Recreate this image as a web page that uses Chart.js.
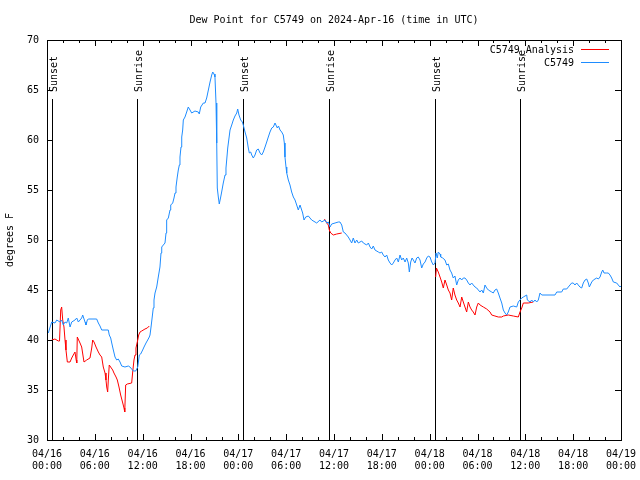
<!DOCTYPE html>
<html>
<head>
<meta charset="utf-8">
<script src="https://cdn.jsdelivr.net/npm/chart.js@4"></script>
<style>
body { margin: 0; background: #fff; }
canvas { display: block; }
</style>
</head>
<body>
<canvas id="chart" width="640" height="480"></canvas>
<script>
// hours since 04/16 00:00 UTC
const blueHours = [
  0.16, 0.59, 1.0, 1.22, 1.63, 1.84, 2.04, 2.26, 2.47, 2.67,
  2.89, 3.1, 3.51, 3.73, 3.93, 4.35, 4.48, 4.77, 4.89, 5.06,
  5.18, 6.23, 6.44, 6.65, 6.86, 7.69, 7.81, 7.99, 8.12, 8.32,
  8.53, 8.74, 8.94, 9.16, 9.37, 9.78, 10.2, 10.41, 10.62, 10.83,
  11.13, 11.38, 11.58, 11.75, 12.0, 12.17, 12.42, 12.63, 12.83, 12.92,
  13.05, 13.2, 13.33, 13.42, 13.55, 13.76, 13.96, 14.17, 14.3, 14.39,
  14.59, 14.8, 14.93, 15.01, 15.22, 15.43, 15.52, 15.77, 15.93, 16.06,
  16.18, 16.34, 16.47, 16.6, 16.68, 16.81, 16.9, 17.02, 17.1, 17.31,
  17.52, 17.72, 17.94, 18.15, 18.56, 18.98, 19.1, 19.28, 19.61, 19.82,
  20.03, 20.16, 20.32, 20.45, 20.66, 20.79, 20.95, 21.07, 21.2, 21.29,
  21.36, 21.49, 21.61, 21.79, 21.91, 22.11, 22.33, 22.45, 22.54, 22.67,
  22.83, 22.96, 23.17, 23.37, 23.58, 23.8, 23.92, 24.08, 24.3, 24.5,
  24.62, 24.84, 25.05, 25.25, 25.38, 25.55, 25.68, 25.88, 26.09, 26.3,
  26.5, 26.72, 26.93, 27.13, 27.35, 27.56, 27.76, 27.97, 28.19, 28.39,
  28.6, 28.89, 29.04, 29.23, 29.44, 29.64, 29.77, 29.85, 29.98, 30.07,
  30.27, 30.48, 30.69, 30.9, 31.11, 31.32, 31.52, 31.74, 32.07, 32.24,
  32.45, 32.78, 32.99, 33.2, 33.62, 33.83, 34.24, 34.46, 34.87, 35.09,
  35.29, 35.5, 35.71, 36.13, 36.54, 36.75, 36.97, 37.17, 37.38, 37.79,
  38.01, 38.22, 38.42, 38.63, 38.85, 39.05, 39.26, 39.48, 39.68, 40.1,
  40.31, 40.52, 40.73, 40.93, 41.14, 41.56, 41.77, 41.98, 42.18, 42.4,
  42.61, 42.81, 43.03, 43.24, 43.44, 43.65, 43.87, 44.07, 44.28, 44.49,
  44.69, 44.91, 45.12, 45.32, 45.45, 45.62, 45.79, 45.95, 46.16, 46.37,
  46.57, 46.79, 47.0, 47.2, 47.42, 47.63, 47.83, 48.04, 48.26, 48.46,
  48.67, 48.8, 48.96, 49.08, 49.3, 49.38, 49.64, 49.92, 50.14, 50.34,
  50.55, 50.76, 50.96, 51.17, 51.39, 51.59, 51.81, 52.02, 52.22, 52.43,
  52.64, 52.85, 53.06, 53.27, 53.47, 53.69, 53.9, 54.1, 54.32, 54.53,
  54.73, 54.94, 55.15, 55.36, 55.57, 55.78, 55.98, 56.19, 56.4, 56.61,
  56.82, 57.04, 57.24, 57.45, 57.66, 57.86, 58.08, 58.49, 58.92, 59.12,
  59.33, 59.55, 59.75, 59.96, 60.17, 60.25, 60.59, 60.8, 61.0, 61.21,
  61.43, 61.63, 61.84, 62.06, 63.72, 63.94, 64.56, 64.76, 65.19, 65.39,
  65.6, 65.81, 66.01, 66.23, 66.44, 66.64, 66.85, 67.07, 67.27, 67.49,
  67.7, 67.9, 68.03, 68.33, 68.53, 68.74, 68.96, 69.16, 69.37, 69.58,
  69.71, 69.87, 70.21, 70.41, 70.62, 70.83, 71.04, 71.46, 71.66, 71.88,
  72.0
];
const blueDew = [
  40.7, 41.8, 41.7, 42.0, 41.8, 42.0, 41.5, 41.8, 41.7, 42.2,
  41.3, 41.8, 42.0, 42.2, 41.8, 42.2, 42.5, 41.8, 41.5, 42.0,
  42.1, 42.1, 41.7, 41.4, 41.0, 41.0, 40.5, 40.2, 39.7, 39.0,
  38.3, 38.0, 38.1, 37.8, 37.4, 37.3, 37.4, 37.3, 37.1, 36.9,
  36.9, 37.3, 38.5, 38.6, 39.0, 39.3, 39.7, 40.0, 40.3, 40.5,
  41.3, 42.3, 43.2, 44.0, 44.7, 45.3, 46.3, 47.3, 48.7, 49.3,
  49.5, 49.7, 50.7, 52.0, 52.2, 53.0, 53.5, 53.7, 54.2, 54.7,
  55.3, 56.3, 57.0, 57.5, 58.3, 59.3, 60.3, 61.0, 62.0, 62.3,
  62.8, 63.3, 63.0, 62.7, 62.9, 62.8, 62.6, 63.3, 63.7, 63.7,
  64.2, 64.7, 65.3, 65.8, 66.5, 66.8, 66.6, 66.3, 63.7, 59.7,
  55.2, 54.3, 53.6, 54.3, 54.8, 55.7, 56.5, 57.2, 58.0, 59.2,
  60.2, 61.0, 61.5, 62.0, 62.4, 62.7, 63.1, 62.5, 62.0, 61.8,
  61.5, 60.8, 60.2, 59.2, 58.7, 58.8, 58.5, 58.2, 58.5, 59.0,
  59.1, 58.7, 58.5, 58.8, 59.3, 59.8, 60.3, 60.8, 61.2, 61.3,
  61.7, 61.2, 61.4, 61.0, 60.8, 60.5, 59.7, 58.3, 57.3, 56.7,
  56.0, 55.5, 54.8, 54.3, 54.0, 53.5, 53.0, 53.5, 52.7, 52.0,
  52.3, 52.4, 52.2, 52.0, 51.8, 51.7, 52.0, 51.8, 52.0, 51.7,
  51.8, 51.3, 51.6, 51.7, 51.8, 51.8, 51.5, 50.8, 50.7, 50.3,
  50.0, 49.7, 50.2, 49.7, 50.0, 49.7, 49.8, 49.9, 49.7, 49.5,
  49.7, 49.3, 49.1, 49.4, 49.0, 48.8, 48.7, 48.8, 48.5, 48.3,
  48.5, 48.0, 47.7, 47.5, 47.7, 48.0, 48.2, 47.8, 48.5, 48.0,
  48.2, 47.8, 48.2, 47.7, 46.8, 47.8, 48.2, 48.0, 47.7, 48.2,
  48.3, 48.0, 47.2, 47.6, 47.8, 48.2, 48.4, 48.3, 47.8, 47.5,
  47.7, 48.7, 48.2, 48.8, 48.6, 48.3, 48.2, 48.0, 47.5, 47.6,
  47.0, 46.7, 46.2, 46.4, 45.5, 46.0, 46.2, 46.0, 46.2, 46.2,
  46.0, 45.7, 45.5, 45.7, 45.5, 45.3, 45.2, 45.0, 44.8, 45.0,
  44.7, 45.5, 45.2, 45.0, 44.9, 44.8, 44.7, 45.0, 45.1, 44.7,
  44.2, 43.7, 43.0, 42.7, 42.5, 42.8, 43.3, 43.4, 43.3, 43.8,
  44.0, 44.2, 44.3, 44.4, 44.5, 44.0, 43.8, 44.0, 43.8, 44.0,
  43.8, 44.0, 44.7, 44.5, 44.5, 44.8, 44.8, 45.1, 45.1, 45.3,
  45.5, 45.7, 45.7, 45.5, 45.7, 45.5, 45.3, 45.2, 45.7, 46.0,
  46.1, 45.7, 45.3, 45.8, 46.0, 46.1, 46.2, 46.1, 46.3, 46.8,
  47.0, 46.7, 46.7, 46.7, 46.5, 46.2, 45.8, 45.7, 45.5, 45.3,
  45.4
];

// analysis series, null = gap
const redHours = [
  0.59, 1.0, 1.42, 1.57, 1.72, 1.84, 1.97, 2.13, 2.26, 2.38,
  2.55, 2.89, 3.1, 3.3, 3.51, 3.66, 3.73, 3.8, 4.14, 4.35,
  4.64, 4.98, 5.39, 5.61, 5.73, 5.9, 6.15, 6.44, 6.65, 6.86,
  7.06, 7.28, 7.4, 7.49, 7.61, 7.69, 7.81, 8.24, 8.4, 8.66,
  8.82, 9.03, 9.24, 9.5, 9.66, 9.75, 9.87, 10.07, 10.62, 10.75,
  10.91, 11.04, 11.16, 11.38, 11.5, 11.67, 11.88, 12.29, 12.58, 12.83,
  20,
  34.8, 35.09, 35.29, 35.41, 35.59, 35.91, 36.34, 36.97,
  42,
  48.75, 48.85, 49.08, 49.3, 49.51, 49.71, 49.92, 50.14, 50.34, 50.55,
  50.76, 50.96, 51.17, 51.39, 51.59, 51.81, 52.02, 52.22, 52.43, 52.64,
  52.85, 53.06, 53.27, 53.47, 53.69, 53.9, 54.1, 54.32, 54.73, 55.15,
  55.57, 55.78, 56.19, 56.61, 57.04, 57.24, 57.86, 58.49, 59.12, 59.33,
  59.55, 59.75, 60.37, 61.0
];
const redDew = [
  40.0, 40.1, 39.9, 39.9, 43.0, 43.3, 42.0, 41.3, 40.0, 39.0,
  37.8, 37.8, 38.2, 38.5, 38.8, 38.0, 37.7, 40.3, 39.7, 39.3,
  37.8, 38.0, 38.2, 39.2, 40.0, 39.8, 39.3, 38.8, 38.5, 38.3,
  37.3, 36.7, 36.0, 35.3, 34.8, 36.0, 37.5, 37.0, 36.7, 36.3,
  36.0, 35.3, 34.5, 33.7, 33.2, 32.8, 35.5, 35.6, 35.7, 36.8,
  38.0, 38.5, 39.2, 40.0, 40.5, 40.8, 40.9, 41.1, 41.2, 41.4,
  null,
  52.1, 51.7, 51.5, 51.0, 50.7, 50.5, 50.6, 50.7,
  null,
  46.3, 47.2, 46.8, 46.3, 45.8, 45.2, 46.0, 45.5, 45.0, 44.7,
  44.0, 45.2, 44.5, 44.0, 43.7, 43.3, 44.3, 43.8, 43.3, 42.8,
  43.8, 43.3, 43.0, 42.8, 42.5, 43.3, 43.7, 43.5, 43.3, 43.1,
  42.8, 42.5, 42.4, 42.3, 42.3, 42.4, 42.5, 42.4, 42.3, 42.8,
  43.2, 43.7, 43.7, 43.8
];

const sunHours = [0.66, 11.33, 24.62, 35.41, 48.71, 59.37];
const sunNames = ['Sunset', 'Sunrise', 'Sunset', 'Sunrise', 'Sunset', 'Sunrise'];
const sunLineTop = 64.1;

const tickDates = ['04/16', '04/16', '04/16', '04/16', '04/17', '04/17', '04/17', '04/17', '04/18', '04/18', '04/18', '04/18', '04/19'];
const tickTimes = ['00:00', '06:00', '12:00', '18:00', '00:00', '06:00', '12:00', '18:00', '00:00', '06:00', '12:00', '18:00', '00:00'];

const FONT = '10px "DejaVu Sans Mono"';

function toPoints(xs, ys) {
    return xs.map((h, i) => ({ x: h, y: ys[i] }));
}

// gnuplot style frame, inward ticks, sun markers, title and key
const gnuplotLook = {
    id: 'gnuplotLook',
    beforeDatasetsDraw(chart) {
        const { ctx, scales: { x, y } } = chart;
        ctx.save();
        ctx.strokeStyle = '#000';
        ctx.fillStyle = '#000';
        ctx.lineWidth = 1;
        ctx.font = FONT;
        const top = Math.round(y.getPixelForValue(sunLineTop));
        sunHours.forEach((h, i) => {
            const px = Math.round(x.getPixelForValue(h)) + 0.5;
            ctx.beginPath();
            ctx.moveTo(px, top);
            ctx.lineTo(px, y.bottom);
            ctx.stroke();
            ctx.save();
            ctx.translate(px + 4, top - 7);
            ctx.rotate(-Math.PI / 2);
            ctx.textAlign = 'left';
            ctx.textBaseline = 'alphabetic';
            ctx.fillText(sunNames[i], 0, 0);
            ctx.restore();
        });
        ctx.restore();
    },
    afterDatasetsDraw(chart) {
        const { ctx, chartArea: a, scales: { x, y } } = chart;
        ctx.save();
        ctx.strokeStyle = '#000';
        ctx.lineWidth = 1;
        ctx.beginPath();
        for (let h = 0; h <= 72; h += 2) {
            const px = Math.round(x.getPixelForValue(h)) + 0.5;
            const len = h % 6 === 0 ? 6 : 3;
            ctx.moveTo(px, a.bottom); ctx.lineTo(px, a.bottom - len);
            ctx.moveTo(px, a.top); ctx.lineTo(px, a.top + len);
        }
        for (let v = 30; v <= 70; v += 5) {
            const py = Math.round(y.getPixelForValue(v)) + 0.5;
            ctx.moveTo(a.left, py); ctx.lineTo(a.left + 6, py);
            ctx.moveTo(a.right, py); ctx.lineTo(a.right - 6, py);
        }
        ctx.stroke();
        ctx.strokeRect(Math.round(a.left) + 0.5, Math.round(a.top) + 0.5,
            Math.round(a.right - a.left), Math.round(a.bottom - a.top));
        ctx.restore();
    },
    afterDraw(chart) {
        const { ctx, chartArea: a } = chart;
        ctx.save();
        ctx.font = FONT;
        ctx.fillStyle = '#000';
        ctx.textAlign = 'center';
        ctx.textBaseline = 'middle';
        ctx.fillText('Dew Point for C5749 on 2024-Apr-16 (time in UTC)', (a.left + a.right) / 2, 20);

        // key
        ctx.textAlign = 'right';
        ctx.lineWidth = 1;
        chart.data.datasets.forEach((ds, i) => {
            const ly = a.top + 10.5 + i * 13;
            ctx.fillStyle = '#000';
            ctx.fillText(ds.label, a.right - 47, ly);
            ctx.strokeStyle = ds.borderColor;
            ctx.beginPath();
            ctx.moveTo(a.right - 40, ly - 1);
            ctx.lineTo(a.right - 12, ly - 1);
            ctx.stroke();
        });
        ctx.restore();
    }
};

const ctx = document.getElementById('chart');

new Chart(ctx, {
    type: 'line',
    data: {
        datasets: [
            {
                label: 'C5749_Analysis',
                data: toPoints(redHours, redDew),
                borderColor: '#ff0000',
                borderWidth: 1,
                pointRadius: 0,
                tension: 0,
                spanGaps: false,
                order: 2
            },
            {
                label: 'C5749',
                data: toPoints(blueHours, blueDew),
                borderColor: '#1e8cff',
                borderWidth: 1,
                pointRadius: 0,
                tension: 0,
                order: 1
            }
        ]
    },
    options: {
        responsive: false,
        animation: false,
        devicePixelRatio: 1,
        layout: { padding: { top: 40, right: 19, left: 0, bottom: 0 } },
        plugins: {
            legend: { display: false },
            title: { display: false },
            tooltip: { enabled: false }
        },
        scales: {
            x: {
                type: 'linear',
                min: 0,
                max: 72,
                grid: { display: false },
                border: { display: false },
                ticks: {
                    stepSize: 6,
                    maxRotation: 0,
                    autoSkip: false,
                    padding: 0,
                    color: '#000',
                    font: { family: 'DejaVu Sans Mono', size: 10 },
                    callback: (v) => {
                        const i = Math.round(v / 6);
                        return [tickDates[i], tickTimes[i]];
                    }
                },
                afterFit: (s) => { s.height = 40; }
            },
            y: {
                min: 30,
                max: 70,
                grid: { display: false },
                border: { display: false },
                ticks: {
                    stepSize: 5,
                    padding: 0,
                    color: '#000',
                    font: { family: 'DejaVu Sans Mono', size: 10 }
                },
                title: {
                    display: true,
                    text: 'degrees F',
                    color: '#000',
                    padding: { top: 4, bottom: 0 },
                    font: { family: 'DejaVu Sans Mono', size: 10 }
                },
                afterFit: (s) => { s.width = 47; }
            }
        }
    },
    plugins: [gnuplotLook]
});
</script>
</body>
</html>
